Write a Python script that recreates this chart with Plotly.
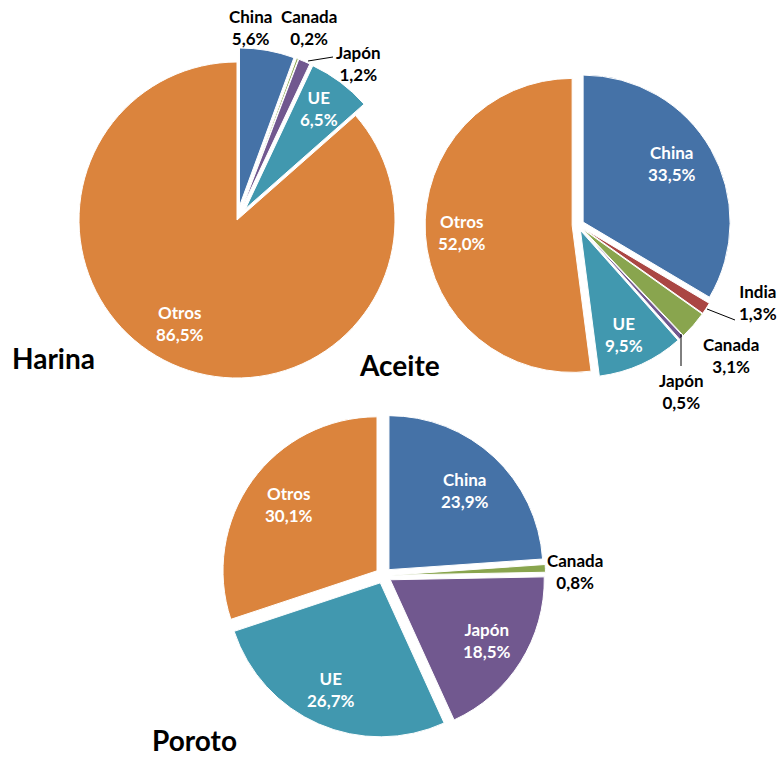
import plotly.graph_objects as go

W, H = 784, 758

# ---------------- data ----------------
harina_labels = ["China", "Canada", "Japón", "UE", "Otros"]
harina_values = [5.6, 0.2, 1.2, 6.5, 86.5]

aceite_labels = ["China", "India", "Canada", "Japón", "UE", "Otros"]
aceite_values = [33.5, 1.3, 3.1, 0.5, 9.5, 52.0]

poroto_labels = ["China", "Canada", "Japón", "UE", "Otros"]
poroto_values = [23.9, 0.8, 18.5, 26.7, 30.1]

titles = ["Harina", "Aceite", "Poroto"]

# ---------------- styles ----------------
COLORS = {
    "China": "#4572A7",
    "India": "#AA4643",
    "Canada": "#89A54E",
    "Japón": "#71588F",
    "UE": "#4198AF",
    "Otros": "#DB843D",
}
FONT = "Lato"

# pie geometry (pixels): center, radius, pull per slice
geom = {
    "Harina": dict(c=(237, 220), r=158, pull=[0.09, 0.09, 0.09, 0.09, 0.0]),
    "Aceite": dict(c=(578, 225), r=147, pull=[0.04] * 6),
    "Poroto": dict(c=(383.5, 575.5), r=154, pull=[0.052] * 5),
}

# label block centers (pixels) and text colour
label_pos = {
    "Harina": [(251, 28, "k"), (309, 28, "k"), (358, 63, "k"), (319, 109, "w"), (180, 323, "w")],
    "Aceite": [(672, 164, "w"), (758, 303, "k"), (731, 355, "k"), (681, 391, "k"), (624, 334, "w"), (462, 232, "w")],
    "Poroto": [(465, 490, "w"), (575, 571, "k"), (487, 640, "w"), (331, 689, "w"), (289, 504, "w")],
}
title_pos = {"Harina": (54, 358), "Aceite": (399, 365), "Poroto": (194, 740)}

# leader lines (pixels)
leaders = [
    ((308, 61), (333, 57)),
    ((707, 309), (735, 320)),
    ((681, 334), (681, 366)),
]


def px(x):
    return x / W


def py(y):
    return 1 - y / H


fig = go.Figure()

datasets = [
    ("Harina", harina_labels, harina_values),
    ("Aceite", aceite_labels, aceite_values),
    ("Poroto", poroto_labels, poroto_values),
]

annotations = []
for name, labels, values in datasets:
    g = geom[name]
    cx, cy = g["c"]
    half = g["r"] * (1 + max(g["pull"]))
    fig.add_trace(
        go.Pie(
            labels=labels,
            values=values,
            sort=False,
            direction="clockwise",
            rotation=0,
            pull=g["pull"],
            marker=dict(colors=[COLORS[l] for l in labels], line=dict(color="white", width=1)),
            textinfo="none",
            hovertemplate="%{label}: %{value:.1f}%<extra></extra>",
            domain=dict(x=[px(cx - half), px(cx + half)], y=[py(cy + half), py(cy - half)]),
            name=name,
        )
    )
    for (lx, ly, col), lab, val in zip(label_pos[name], labels, values):
        txt = f"{lab}<br>{val:.1f}%".replace(".", ",")
        annotations.append(
            dict(
                x=px(lx), y=py(ly), xref="paper", yref="paper",
                text=f"<b>{txt}</b>", showarrow=False,
                xanchor="center", yanchor="middle",
                font=dict(family=FONT, size=17, color="white" if col == "w" else "black"),
            )
        )
    tx, ty = title_pos[name]
    annotations.append(
        dict(
            x=px(tx), y=py(ty), xref="paper", yref="paper",
            text=f"<b>{name}</b>", showarrow=False,
            xanchor="center", yanchor="middle", borderpad=0,
            font=dict(family=FONT, size=28, color="black"),
        )
    )

shapes = [
    dict(type="line", xref="paper", yref="paper",
         x0=px(a[0]), y0=py(a[1]), x1=px(b[0]), y1=py(b[1]),
         line=dict(color="black", width=1))
    for a, b in leaders
]

fig.update_layout(
    width=W, height=H, autosize=False,
    margin=dict(l=0, r=0, t=0, b=0),
    paper_bgcolor="white", plot_bgcolor="white",
    showlegend=False,
    annotations=annotations,
    shapes=shapes,
    font=dict(family=FONT),
)

fig.write_html(
    "out.html",
    config={"displayModeBar": False},
    post_script="document.body.style.margin='0';document.body.style.overflow='hidden';",
)
